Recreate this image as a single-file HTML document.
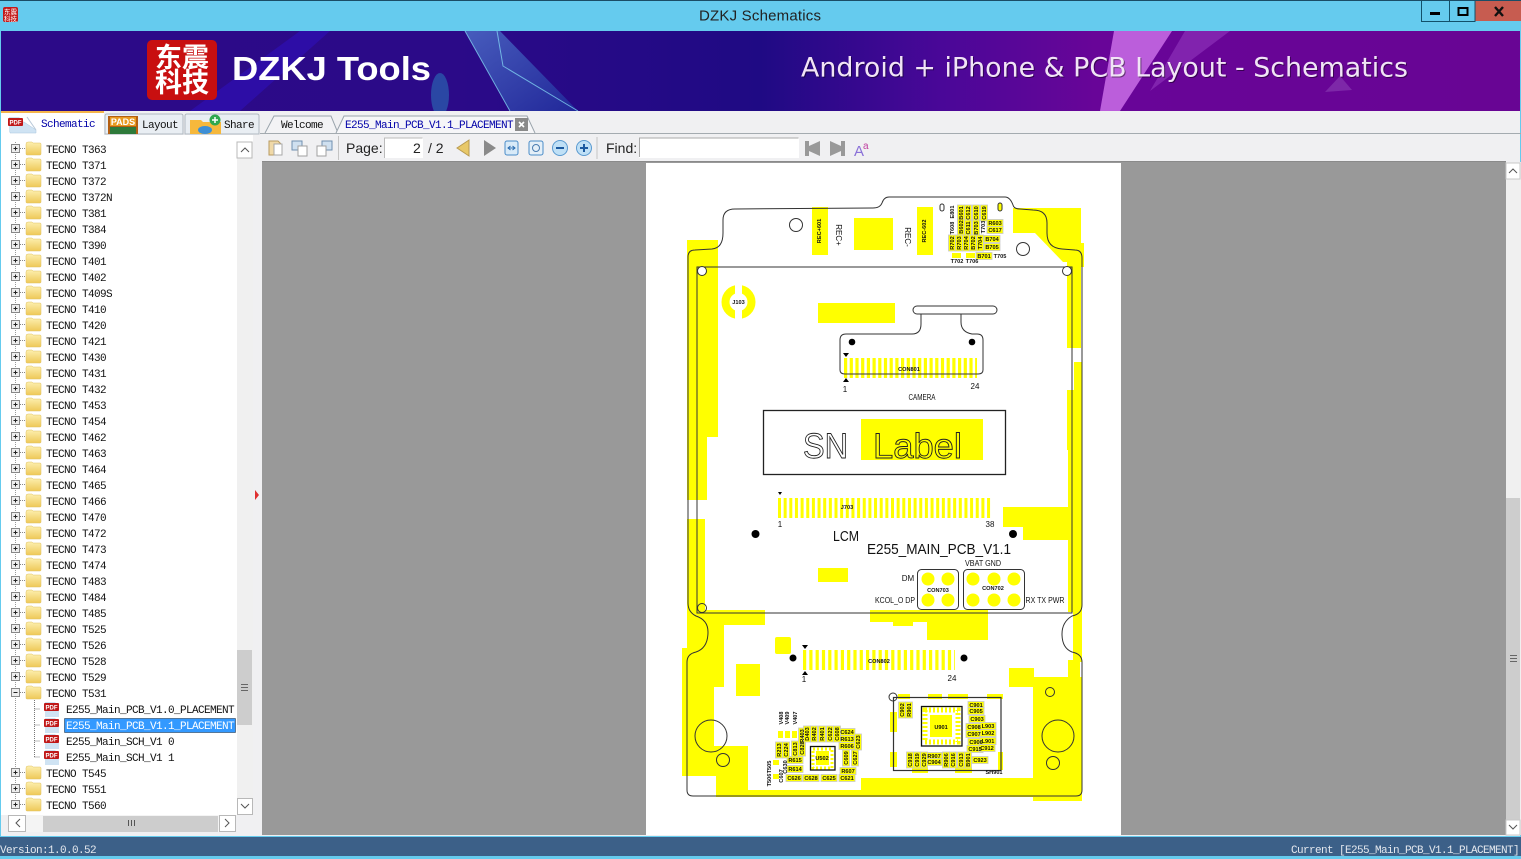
<!DOCTYPE html>
<html><head><meta charset="utf-8"><title>DZKJ Schematics</title>
<style>
html,body{margin:0;padding:0;background:#fff;overflow:hidden}
svg{display:block}
.t{font:11px "Liberation Mono",monospace;letter-spacing:-.6px;fill:#111}
.u{font:14px "Liberation Sans",sans-serif;fill:#222}
.l{font:bold 5.6px "Liberation Sans",sans-serif;fill:#111;text-anchor:middle}
.m{font:8px "Liberation Sans",sans-serif;fill:#111;text-anchor:middle}
</style></head><body>
<svg xmlns="http://www.w3.org/2000/svg" width="1521" height="859" viewBox="0 0 1521 859">
<defs>
<linearGradient id="ban" x1="0" x2="1" y1="0" y2="0"><stop offset="0" stop-color="#2c0a88"/><stop offset=".3" stop-color="#2b0a88"/><stop offset=".5" stop-color="#1f0a84"/><stop offset=".62" stop-color="#4a0798"/><stop offset=".72" stop-color="#680598"/><stop offset="1" stop-color="#680594"/></linearGradient>
<linearGradient id="bl" x1="0" x2="1" y1="0" y2="1"><stop offset="0" stop-color="#5fa0e8"/><stop offset="1" stop-color="#1d3fa8"/></linearGradient>
<linearGradient id="fo" x1="0" x2="0" y1="0" y2="1"><stop offset="0" stop-color="#fdf0b0"/><stop offset="1" stop-color="#eec858"/></linearGradient>
<g id="r"><rect x="11.5" y="-4.5" width="8" height="8" fill="#eee" stroke="#888"/><path d="M13.5-.5h4M15.5-2.500v4" stroke="#222"/><path d="M20-.5h6" stroke="#888" stroke-dasharray="1 1"/><use href="#f"/></g>
<g id="f"><path d="M26-5q0-2 2-2h4l1 1h7q1 0 1 1v10q0 1-1 1H27q-1 0-1-1z" fill="url(#fo)" stroke="#e0c060" stroke-width=".5"/></g>
<g id="p"><path d="M-7 -7h10l4 4v11h-14z" fill="#cfe3f3"/><rect x="-8" y="-6" width="15" height="8" fill="#c01818" rx="1"/><text x="-.5" y="0.500" font-family="Liberation Sans" font-size="6" font-weight="bold" fill="#fff" text-anchor="middle">PDF</text></g>
<rect id="h" x="-8" y="-3.500" width="16" height="7" fill="#ff0" stroke="#c8c8c8" stroke-width=".8"/>
<rect id="v" x="-3.500" y="-8" width="7" height="16" fill="#ff0" stroke="#c8c8c8" stroke-width=".8"/>
<clipPath id="pc"><rect x="646" y="163" width="475" height="672"/></clipPath>
</defs>

<!-- window frame -->
<rect width="1521" height="859" fill="#65cbee"/>
<rect width="1521" height="1" fill="#1a4d66"/>
<rect x="3" y="7" width="15" height="15" rx="2" fill="#c31a1a"/>
<text x="4" y="14" font-family="Noto Sans CJK SC" font-size="6.500" fill="#fff">东震</text>
<text x="4" y="21" font-family="Noto Sans CJK SC" font-size="6.500" fill="#fff">科技</text>
<text x="760" y="20.500" font-family="Liberation Sans,sans-serif" font-size="15" fill="#222" text-anchor="middle" textLength="122">DZKJ Schematics</text>
<rect x="1475" y="1" width="46" height="20" fill="#c75c50"/>
<path d="M1421.500 1v20.500h53.500V1M1449.500 1v20" fill="none" stroke="#12506a"/>
<rect x="1430" y="12" width="10" height="3" fill="#000"/>
<rect x="1458.500" y="8" width="9" height="7" fill="none" stroke="#000" stroke-width="2"/>
<path d="M1495 7l8 9M1503 7l-8 9" stroke="#111" stroke-width="2.400"/>

<!-- banner -->
<rect x="1" y="31" width="1519" height="80" fill="url(#ban)"/>
<path d="M190 111L300 31h30L240 111z" fill="#2f10c0" opacity=".55"/>
<path d="M465 31h35l78 80h-68z" fill="url(#bl)" opacity=".55"/>
<path d="M465 31l45 80M497 31l6 35 75 45" stroke="#7fd0f0" fill="none" opacity=".8"/>
<ellipse cx="440" cy="95" rx="9" ry="22" fill="#2a70b8" opacity=".6"/>
<path d="M1114 31h58l-52 80h-20z" fill="#c468e2" opacity=".9"/>
<path d="M1185 31h45l-80 60z" fill="#8c30b8" opacity=".7"/>
<path d="M1325 92l27-2-12-14z" fill="#7d28a8"/>
<rect x="147" y="40" width="70" height="60" rx="5" fill="#c80f10"/>
<text x="182" y="67" font-family="Noto Sans CJK SC,sans-serif" font-size="27" font-weight="bold" fill="#fff" text-anchor="middle">东震</text>
<text x="182" y="92" font-family="Noto Sans CJK SC,sans-serif" font-size="27" font-weight="bold" fill="#fff" text-anchor="middle">科技</text>
<text x="232" y="80" font-family="Liberation Sans,sans-serif" font-size="33" font-weight="bold" fill="#fff" textLength="199" lengthAdjust="spacingAndGlyphs">DZKJ Tools</text>
<text x="802" y="77.500" font-family="DejaVu Sans,sans-serif" font-size="27" fill="#000" opacity=".45" textLength="607" lengthAdjust="spacingAndGlyphs">Android + iPhone &amp; PCB Layout - Schematics</text>
<text x="801" y="76.500" font-family="DejaVu Sans,sans-serif" font-size="27" fill="#f1e4f6" textLength="607" lengthAdjust="spacingAndGlyphs">Android + iPhone &amp; PCB Layout - Schematics</text>

<!-- panels bg -->
<rect x="1" y="111" width="1519" height="725" fill="#f0f0f2"/>
<rect x="262" y="162" width="1244" height="673" fill="#999"/>
<rect x="262" y="161" width="1244" height="1" fill="#8a8a8a"/>
<path d="M260 133.500H1521" stroke="#a4abb0"/>

<!-- left tabs -->
<rect x="1" y="111" width="103" height="24" fill="#fff"/>
<rect x="1" y="111" width="103" height="2" fill="#f4b44a"/>
<path d="M10 122h14l12 8v3H10z" fill="#cfe3f3" stroke="#a8c4dc" stroke-width=".5"/>
<path d="M27 117l9 13" stroke="#b8c8d8"/>
<use href="#p" x="16" y="124"/>
<text class="t" x="41" y="127" style="fill:#0000a8">Schematic</text>
<path d="M105 134v-18q0-2 2-2h74q2 0 2 2v18z" fill="#e9eef3" stroke="#b0b8c0"/>
<rect x="108" y="116" width="30" height="18" fill="#b45f12"/><rect x="110" y="117" width="26" height="9" fill="#e89a20"/><rect x="110" y="127" width="26" height="7" fill="#2e7a3a"/>
<text x="123" y="125" font-family="Liberation Sans" font-size="9" font-weight="bold" fill="#fff" text-anchor="middle">PADS</text>
<text class="t" x="142" y="128">Layout</text>
<path d="M185 134v-18q0-2 2-2h70q2 0 2 2v18z" fill="#e9eef3" stroke="#b0b8c0"/>
<path d="M190 120h11l2 2h18v12h-31z" fill="#f6b83c"/><ellipse cx="205" cy="130" rx="7" ry="4" fill="#3d8fd6"/><circle cx="215" cy="120" r="5.500" fill="#2fa84f"/><path d="M212 120h6M215 117v6" stroke="#fff" stroke-width="1.500"/>
<text class="t" x="224" y="128">Share</text>

<!-- doc tabs -->
<path d="M265 133l9-17h57l7 17" fill="#f3f3f5" stroke="#9aa4ac"/>
<text class="t" x="281" y="128">Welcome</text>
<path d="M336 133l8-17h183l8 17" fill="#f6f6f8" stroke="#9aa4ac"/>
<text class="t" x="345" y="128" style="fill:#0000a8">E255_Main_PCB_V1.1_PLACEMENT</text>
<rect x="515" y="118" width="13" height="13" fill="#8a8a8a"/><path d="M519 122l5 5M524 122l-5 5" stroke="#fff" stroke-width="1.600"/>

<!-- toolbar -->
<path d="M269 141h9l4 4v10h-13z" fill="#f0d9a8" stroke="#b89a60"/><rect x="274" y="144" width="8" height="11" fill="#fff" stroke="#a8a8a8"/>
<rect x="292" y="141" width="10" height="9" fill="#cfe0f0" stroke="#7090b0"/><rect x="298" y="146" width="9" height="10" fill="#fff" stroke="#a0a0a0"/>
<rect x="322" y="141" width="10" height="9" fill="#cfe0f0" stroke="#7090b0"/><rect x="317" y="146" width="9" height="10" fill="#fff" stroke="#a0a0a0"/>
<path d="M338.500 136v24" stroke="#c4c4c4"/>
<text class="u" x="346" y="153">Page:</text>
<rect x="384" y="138" width="39" height="20" fill="#fff"/><path d="M384.500 158v-20h38" fill="none" stroke="#bbb"/>
<text class="u" x="413" y="153">2</text><text class="u" x="428" y="153">/ 2</text>
<path d="M469 140v16l-12-8z" fill="#e8c868" stroke="#b89a50"/>
<path d="M484 140v16l12-8z" fill="#8a8a8a"/>
<rect x="505" y="141" width="13" height="14" rx="2" fill="#d8eaf8" stroke="#4a8cc8"/><path d="M508 148h7M510.500 146l-2.500 2 2.500 2M512.500 146l2.500 2-2.500 2" stroke="#2a6cb0" fill="none"/>
<rect x="529" y="141" width="14" height="14" rx="2" fill="#e4eff8" stroke="#4a8cc8"/><circle cx="536" cy="148" r="3.500" fill="none" stroke="#4a7cb0"/>
<circle cx="560" cy="148" r="7.500" fill="#bfe0f6" stroke="#5a9ad0"/><rect x="556" y="147" width="8" height="2" fill="#1c5aa0"/>
<circle cx="584" cy="148" r="7.500" fill="#bfe0f6" stroke="#5a9ad0"/><path d="M580 148h8M584 144v8" stroke="#1c5aa0" stroke-width="2"/>
<path d="M597 137v22" stroke="#c4c4c4"/>
<text class="u" x="606" y="153">Find:</text>
<rect x="639" y="138" width="160" height="20" fill="#fff"/><path d="M639.500 157v-19h159" fill="none" stroke="#aaa"/>
<path d="M805 141h4v5l11-5v15l-11-5v5h-4z" fill="#999"/>
<path d="M845 141h-4v5l-11-5v15l11-5v5h4z" fill="#999"/>
<text x="854" y="156" font-family="Liberation Sans" font-size="15" fill="#8a70d8">A</text><text x="863" y="149" font-family="Liberation Sans" font-size="10" fill="#c040a0">a</text>

<!-- tree -->
<rect x="1" y="135" width="252" height="680" fill="#fff"/>
<rect x="253" y="135" width="9" height="700" fill="#f0f0f2"/>
<path d="M255 490l4 5-4 5z" fill="#e03030"/>
<path d="M15.500 142V805" stroke="#999" stroke-dasharray="1 1"/>
<path d="M34.500 700v57M34.500 709h6M34.500 725h6M34.500 741h6M34.500 757h6" stroke="#777" stroke-dasharray="1 1" fill="none"/>
<use href="#r" y="149"/><text class="t" x="46" y="153">TECNO T363</text>
<use href="#r" y="165"/><text class="t" x="46" y="169">TECNO T371</text>
<use href="#r" y="181"/><text class="t" x="46" y="185">TECNO T372</text>
<use href="#r" y="197"/><text class="t" x="46" y="201">TECNO T372N</text>
<use href="#r" y="213"/><text class="t" x="46" y="217">TECNO T381</text>
<use href="#r" y="229"/><text class="t" x="46" y="233">TECNO T384</text>
<use href="#r" y="245"/><text class="t" x="46" y="249">TECNO T390</text>
<use href="#r" y="261"/><text class="t" x="46" y="265">TECNO T401</text>
<use href="#r" y="277"/><text class="t" x="46" y="281">TECNO T402</text>
<use href="#r" y="293"/><text class="t" x="46" y="297">TECNO T409S</text>
<use href="#r" y="309"/><text class="t" x="46" y="313">TECNO T410</text>
<use href="#r" y="325"/><text class="t" x="46" y="329">TECNO T420</text>
<use href="#r" y="341"/><text class="t" x="46" y="345">TECNO T421</text>
<use href="#r" y="357"/><text class="t" x="46" y="361">TECNO T430</text>
<use href="#r" y="373"/><text class="t" x="46" y="377">TECNO T431</text>
<use href="#r" y="389"/><text class="t" x="46" y="393">TECNO T432</text>
<use href="#r" y="405"/><text class="t" x="46" y="409">TECNO T453</text>
<use href="#r" y="421"/><text class="t" x="46" y="425">TECNO T454</text>
<use href="#r" y="437"/><text class="t" x="46" y="441">TECNO T462</text>
<use href="#r" y="453"/><text class="t" x="46" y="457">TECNO T463</text>
<use href="#r" y="469"/><text class="t" x="46" y="473">TECNO T464</text>
<use href="#r" y="485"/><text class="t" x="46" y="489">TECNO T465</text>
<use href="#r" y="501"/><text class="t" x="46" y="505">TECNO T466</text>
<use href="#r" y="517"/><text class="t" x="46" y="521">TECNO T470</text>
<use href="#r" y="533"/><text class="t" x="46" y="537">TECNO T472</text>
<use href="#r" y="549"/><text class="t" x="46" y="553">TECNO T473</text>
<use href="#r" y="565"/><text class="t" x="46" y="569">TECNO T474</text>
<use href="#r" y="581"/><text class="t" x="46" y="585">TECNO T483</text>
<use href="#r" y="597"/><text class="t" x="46" y="601">TECNO T484</text>
<use href="#r" y="613"/><text class="t" x="46" y="617">TECNO T485</text>
<use href="#r" y="629"/><text class="t" x="46" y="633">TECNO T525</text>
<use href="#r" y="645"/><text class="t" x="46" y="649">TECNO T526</text>
<use href="#r" y="661"/><text class="t" x="46" y="665">TECNO T528</text>
<use href="#r" y="677"/><text class="t" x="46" y="681">TECNO T529</text>
<use href="#f" y="693"/><rect x="11.500" y="688.500" width="8" height="8" fill="#eee" stroke="#888"/><path d="M13.500 692.500h4" stroke="#222"/><path d="M20 692.500h6" stroke="#888" stroke-dasharray="1 1"/><text class="t" x="46" y="697">TECNO T531</text>
<use href="#p" x="52" y="709"/><text class="t" x="66" y="713">E255_Main_PCB_V1.0_PLACEMENT</text>
<use href="#p" x="52" y="725"/>
<rect x="64.500" y="718.500" width="171" height="14" fill="#3399ff" stroke="#123" stroke-dasharray="1 1"/>
<text class="t" x="66" y="729" style="fill:#fff">E255_Main_PCB_V1.1_PLACEMENT</text>
<use href="#p" x="52" y="741"/><text class="t" x="66" y="745">E255_Main_SCH_V1 0</text>
<use href="#p" x="52" y="757"/><text class="t" x="66" y="761">E255_Main_SCH_V1 1</text>
<use href="#r" y="773"/><text class="t" x="46" y="777">TECNO T545</text>
<use href="#r" y="789"/><text class="t" x="46" y="793">TECNO T551</text>
<use href="#r" y="805"/><text class="t" x="46" y="809">TECNO T560</text>

<!-- tree scrollbars -->
<rect x="237" y="142" width="16" height="672" fill="#f0f0f0"/>
<rect x="237" y="142" width="15" height="16" fill="#fff" stroke="#b8b8b8"/>
<path d="M241 152l4-4 4 4" fill="none" stroke="#555"/>
<rect x="237" y="650" width="15" height="75" fill="#cdcdcd"/>
<path d="M241 684.500h7M241 687.500h7M241 690.500h7" stroke="#666"/>
<rect x="237.500" y="798.500" width="15" height="16" fill="#fff" stroke="#b8b8b8"/>
<path d="M241 804l4 4 4-4" fill="none" stroke="#555"/>
<rect x="8" y="815" width="228" height="17" fill="#f4f4f4"/>
<rect x="8.500" y="815.500" width="17" height="16" fill="#fff" stroke="#b8b8b8"/><path d="M20 819l-4 4 4 4" fill="none" stroke="#555"/>
<rect x="43" y="816" width="175" height="16" fill="#cdcdcd"/><path d="M128.500 820v6M131.500 820v6M134.500 820v6" stroke="#555"/>
<rect x="219.500" y="815.500" width="16" height="16" fill="#fff" stroke="#b8b8b8"/><path d="M225 819l4 4-4 4" fill="none" stroke="#555"/>

<!-- main right scrollbar -->
<rect x="1506" y="162" width="15" height="673" fill="#f0f0f0"/>
<rect x="1506" y="163" width="14" height="16" fill="#fff" stroke="#c8c8c8"/><path d="M1509 173l4-4 4 4" fill="none" stroke="#555"/>
<rect x="1506" y="498" width="14" height="322" fill="#cdcdcd"/>
<path d="M1510 655.500h7M1510 658.500h7M1510 661.500h7" stroke="#666"/>
<rect x="1506" y="820" width="14" height="15" fill="#fff" stroke="#c8c8c8"/><path d="M1509 825l4 4 4-4" fill="none" stroke="#555"/>

<!-- status -->
<rect y="837" width="1521" height="19" fill="#3c6088"/>
<text class="t" x="0" y="853" style="fill:#e4e8ee">Version:1.0.0.52</text>
<text class="t" x="1291" y="853" style="fill:#e4e8ee">Current [E255_Main_PCB_V1.1_PLACEMENT]</text>

<!-- PCB page -->
<rect x="646" y="163" width="475" height="672" fill="#fff"/>
<g clip-path="url(#pc)">
<g fill="#ff0">
<path d="M687 240h31v197h-11v63h-20z"/>
<path d="M687 519h18v91h60v15h-41v62h-10v59h34v44h113v-12h172v19H716v-21h-34V648h5z"/>
<path d="M1013 208h68v35h3v24h-3v81h-14v-86l-4 0-28-29h-22z"/>
<path d="M1074 362h8v30h-8zM1067 390h15v60h-15z"/>
<path d="M1068 450h14v162h-14v-72h-45v-13h-20v-20h65z"/>
<path d="M1073 612h9v50h-2l0 15h-12v-17h5z"/>
<path d="M1033 677h49v124h-49z"/>
<rect x="1009" y="668" width="25" height="19"/>
<rect x="812" y="207" width="16" height="48"/>
<rect x="854" y="218" width="39" height="32"/>
<rect x="917" y="207" width="16" height="48"/>
<rect x="818" y="303" width="77" height="20"/>
<rect x="861" y="419" width="122" height="41"/>
<rect x="818" y="568" width="30" height="14"/>
<path d="M870 610h118v30h-61v-18h-14v4h-20v-4h-23z"/>
<rect x="775" y="637" width="16" height="17" rx="2"/>
<rect x="736" y="664" width="24" height="32"/>
<circle cx="928" cy="579" r="6.500"/><circle cx="948" cy="579" r="6.500"/><circle cx="928" cy="600" r="6.500"/><circle cx="948" cy="600" r="6.500"/>
<circle cx="973" cy="579" r="6.500"/><circle cx="994" cy="579" r="6.500"/><circle cx="1014" cy="579" r="6.500"/><circle cx="973" cy="600" r="6.500"/><circle cx="994" cy="600" r="6.500"/><circle cx="1014" cy="600" r="6.500"/>
<!-- SH901 dashes -->
<path d="M898 694h12v5h-12zM928 694h14v5h-14zM948 694h20v5h-20zM987 694h16v5h-16zM890 712h7v20h-7zM890 752h7v15h-7zM998 752h5v18h-5zM912 767h16v6h-16zM955 767h17v6h-17z"/>
<rect x="930" y="715" width="22" height="22"/>
<rect x="816" y="751" width="13" height="14"/>
</g>
<circle cx="738.500" cy="302" r="13" fill="none" stroke="#ff0" stroke-width="8"/>
<rect x="735" y="284" width="7" height="12" fill="#fff"/><rect x="735" y="308" width="7" height="12" fill="#fff"/>
<path d="M844 368h133" stroke="#ff0" stroke-width="20" stroke-dasharray="3.200 2.500"/>
<path d="M778 508h214" stroke="#ff0" stroke-width="20" stroke-dasharray="3 2.650"/>
<path d="M803 660h152" stroke="#ff0" stroke-width="20" stroke-dasharray="3.200 3.100"/>
<rect x="925" y="710" width="33" height="32" fill="none" stroke="#ff0" stroke-width="5" stroke-dasharray="2 2"/>
<rect x="813" y="749" width="19" height="19" fill="none" stroke="#ff0" stroke-width="3" stroke-dasharray="2 2"/>

<!-- outlines -->
<g fill="none" stroke="#333" stroke-width="1">
<path d="M688 603V257Q688 250 695 250L712 249Q723 248 723 233V220Q723 209 735 209L873 208Q880 208 882 203Q884 197 889 197H1005Q1010 197 1013 205Q1014 209 1020 209L1033 210Q1047 210 1047 223V233Q1047 248 1062 249L1075 250Q1082 250 1082 258V605Q1082 614 1072 616Q1062 622 1062 634Q1062 648 1072 652Q1082 654 1082 662V790Q1082 796 1076 796H693Q687 796 687 790V662Q687 654 696 652Q708 648 708 632Q708 620 696 616Q688 612 688 603Z"/>
<rect x="697" y="267" width="375" height="346"/>
<circle cx="702" cy="271" r="4.500" fill="#fff"/><circle cx="1067" cy="271" r="4.500" fill="#fff"/><circle cx="702" cy="608" r="4.500"/>
<circle cx="796" cy="225" r="6.500"/><circle cx="1023" cy="249" r="6.500"/>
<circle cx="711" cy="736" r="16"/><circle cx="1058" cy="736" r="16"/>
<circle cx="723" cy="760" r="6.500"/><circle cx="1053" cy="763" r="6.500"/><circle cx="1050" cy="692" r="4.500"/><circle cx="893" cy="697" r="4"/>
<rect x="913" y="306" width="84" height="8" rx="4"/>
<path d="M921 314V324Q921 334 912 334H846Q840 334 840 340V370Q840 374 845 374H978Q983 374 983 370V340Q983 334 977 334H972Q961 332 961 322V314"/>
<rect x="763.500" y="410.500" width="242" height="64" stroke="#222" stroke-width="1.300"/>
<rect x="917.500" y="569.500" width="41" height="40" rx="4"/>
<rect x="963.500" y="569.500" width="61" height="40" rx="4"/>
<rect x="893.500" y="697.500" width="107.500" height="73" stroke-width="1.200"/>
<rect x="921.500" y="706.500" width="40.500" height="39.500" stroke="#111" stroke-width="1.300"/>
<rect x="810.500" y="746.500" width="24.500" height="23.500" stroke="#111" stroke-width="1.300"/>
<rect x="940" y="204" width="4" height="7" rx="2"/><rect x="998" y="203" width="4" height="8" rx="2" fill="#ff0"/>
</g>
<g fill="#000">
<circle cx="852" cy="342" r="3.300"/><circle cx="972" cy="342" r="3.300"/>
<circle cx="755.500" cy="534" r="4"/><circle cx="1013" cy="534" r="4"/>
<circle cx="793" cy="658" r="3.500"/><circle cx="964" cy="658" r="3.500"/>
<path d="M843 353h6l-3 4zM843 382h6l-3-4zM778 492h4l-2 3zM802 645h6l-3 4zM802 675h6l-3-4z"/>
</g>
<text x="803" y="458" font-family="Liberation Sans,sans-serif" font-size="35" fill="#fff" stroke="#222" stroke-width=".9" textLength="45" lengthAdjust="spacingAndGlyphs">SN</text>
<text x="873" y="458" font-family="Liberation Sans,sans-serif" font-size="35" fill="#ff0" stroke="#222" stroke-width=".9" textLength="89" lengthAdjust="spacingAndGlyphs">Label</text>
<text x="833" y="541" font-family="Liberation Sans,sans-serif" font-size="15" fill="#111" textLength="26" lengthAdjust="spacingAndGlyphs">LCM</text>
<text x="867" y="554" font-family="Liberation Sans,sans-serif" font-size="15" fill="#111" textLength="144" lengthAdjust="spacingAndGlyphs">E255_MAIN_PCB_V1.1</text>
<g>
<text class="m" x="922" y="400" textLength="27" lengthAdjust="spacingAndGlyphs">CAMERA</text>
<text class="m" x="845" y="392">1</text><text class="m" x="975" y="389">24</text>
<text class="m" x="780" y="527">1</text><text class="m" x="990" y="527">38</text>
<text class="m" x="804" y="682">1</text><text class="m" x="952" y="681">24</text>
<text class="m" x="908" y="581">DM</text>
<text class="m" x="895" y="603" textLength="40" lengthAdjust="spacingAndGlyphs">KCOL_O DP</text>
<text class="m" x="983" y="566" textLength="36" lengthAdjust="spacingAndGlyphs">VBAT GND</text>
<text class="m" x="1045" y="603" textLength="39" lengthAdjust="spacingAndGlyphs">RX TX PWR</text>
<text class="m" transform="translate(836,235) rotate(90)">REC+</text>
<text class="m" transform="translate(905,237) rotate(90)">REC-</text>
</g>
<g>
<text class="l" x="738.500" y="304">J103</text><text class="l" x="909" y="371">CON801</text><text class="l" x="847" y="509">J703</text>
<text class="l" x="938" y="592">CON703</text><text class="l" x="993" y="590">CON702</text><text class="l" x="879" y="663">CON802</text>
<text class="l" transform="translate(821,231) rotate(-90)">REC+601</text>
<text class="l" transform="translate(926,231) rotate(-90)">REC-602</text>
<text class="l" x="941" y="729">U901</text><text class="l" x="822" y="760">U502</text>
<text class="l" x="994" y="774">SH901</text>
</g>
<!-- top right cluster -->
<g>
<use href="#v" x="961" y="213"/><use href="#v" x="961" y="227"/><use href="#v" x="968" y="213"/><use href="#v" x="968" y="228"/><use href="#v" x="976" y="213"/><use href="#v" x="976" y="228"/><use href="#v" x="984" y="213"/>
<use href="#v" x="952" y="243"/><use href="#v" x="959" y="243"/><use href="#v" x="966" y="243"/><use href="#v" x="973" y="243"/><use href="#v" x="980" y="243"/>
<use href="#h" x="995" y="223"/><use href="#h" x="995" y="230"/><use href="#h" x="992" y="239"/><use href="#h" x="992" y="247"/><use href="#h" x="984" y="256"/>
<rect x="952" y="253" width="9" height="5" fill="#ff0"/><rect x="966" y="253" width="9" height="5" fill="#ff0"/>
<text class="l" transform="translate(954,212) rotate(-90)">E801</text><text class="l" transform="translate(954,228) rotate(-90)">T608</text>
<text class="l" transform="translate(963,213) rotate(-90)">B601</text><text class="l" transform="translate(963,227) rotate(-90)">B602</text>
<text class="l" transform="translate(970,213) rotate(-90)">C612</text><text class="l" transform="translate(970,228) rotate(-90)">C611</text>
<text class="l" transform="translate(978,213) rotate(-90)">C610</text><text class="l" transform="translate(978,228) rotate(-90)">B703</text>
<text class="l" transform="translate(986,213) rotate(-90)">C619</text><text class="l" transform="translate(985,227) rotate(-90)">T703</text>
<text class="l" transform="translate(954,243) rotate(-90)">R702</text><text class="l" transform="translate(961,243) rotate(-90)">R703</text>
<text class="l" transform="translate(968,243) rotate(-90)">R704</text><text class="l" transform="translate(975,243) rotate(-90)">B702</text><text class="l" transform="translate(982,243) rotate(-90)">T704</text>
<text class="l" x="995" y="225">R603</text><text class="l" x="995" y="232">C617</text><text class="l" x="992" y="241">B704</text><text class="l" x="992" y="249">B705</text><text class="l" x="984" y="258">B701</text><text class="l" x="1000" y="258">T705</text><text class="l" x="957" y="263">T702</text><text class="l" x="972" y="263">T706</text>
</g>
<!-- lower-left cluster -->
<g>
<use href="#h" x="795" y="760"/><use href="#h" x="795" y="769"/><use href="#h" x="794" y="778"/><use href="#h" x="811" y="778"/><use href="#h" x="829" y="778"/><use href="#h" x="847" y="778"/><use href="#h" x="848" y="771"/><use href="#h" x="847" y="746"/><use href="#h" x="847" y="739"/><use href="#h" x="847" y="732"/>
<use href="#v" x="779" y="750"/><use href="#v" x="786" y="750"/><use href="#v" x="795" y="749"/><use href="#v" x="802" y="748"/><use href="#v" x="802" y="736"/><use href="#v" x="807" y="734"/><use href="#v" x="814" y="734"/><use href="#v" x="822" y="734"/><use href="#v" x="830" y="734"/><use href="#v" x="837" y="734"/><use href="#v" x="858" y="742"/><use href="#v" x="846" y="758"/><use href="#v" x="855" y="758"/>
<rect x="778" y="731" width="5" height="7" fill="#ff0"/><rect x="785" y="731" width="5" height="7" fill="#ff0"/><rect x="792" y="731" width="5" height="7" fill="#ff0"/><rect x="773" y="760" width="6" height="5" fill="#ff0"/><rect x="773" y="774" width="6" height="5" fill="#ff0"/>
<text class="l" x="795" y="762">R615</text><text class="l" x="795" y="771">R614</text><text class="l" x="794" y="780">C626</text><text class="l" x="811" y="780">C628</text><text class="l" x="829" y="780">C625</text><text class="l" x="847" y="780">C621</text><text class="l" x="848" y="773">R607</text><text class="l" x="847" y="748">R606</text><text class="l" x="847" y="741">R613</text><text class="l" x="847" y="734">C624</text>
<text class="l" transform="translate(783,718) rotate(-90)">V408</text><text class="l" transform="translate(789,718) rotate(-90)">V409</text><text class="l" transform="translate(797,718) rotate(-90)">V407</text>
<text class="l" transform="translate(781,750) rotate(-90)">R213</text><text class="l" transform="translate(788,750) rotate(-90)">C224</text><text class="l" transform="translate(797,749) rotate(-90)">C813</text><text class="l" transform="translate(804,748) rotate(-90)">C828</text><text class="l" transform="translate(804,736) rotate(-90)">R403</text><text class="l" transform="translate(809,734) rotate(-90)">D403</text><text class="l" transform="translate(816,734) rotate(-90)">R402</text><text class="l" transform="translate(824,734) rotate(-90)">R401</text><text class="l" transform="translate(832,734) rotate(-90)">C622</text><text class="l" transform="translate(839,734) rotate(-90)">C608</text><text class="l" transform="translate(860,742) rotate(-90)">C623</text><text class="l" transform="translate(848,758) rotate(-90)">C609</text><text class="l" transform="translate(857,758) rotate(-90)">C627</text>
<text class="l" transform="translate(771,767) rotate(-90)">T505</text><text class="l" transform="translate(771,780) rotate(-90)">T506</text><text class="l" transform="translate(787,767) rotate(-90)">C630</text><text class="l" transform="translate(783,776) rotate(-90)">C607</text>
</g>
<!-- SH901 cluster -->
<g>
<use href="#h" x="976" y="705"/><use href="#h" x="976" y="711"/><use href="#h" x="977" y="719"/><use href="#h" x="974" y="727"/><use href="#h" x="974" y="734"/><use href="#h" x="976" y="742"/><use href="#h" x="975" y="749"/><use href="#h" x="980" y="760"/><use href="#h" x="988" y="726"/><use href="#h" x="988" y="733"/><use href="#h" x="988" y="741"/><use href="#h" x="987" y="748"/><use href="#h" x="934" y="756"/><use href="#h" x="934" y="762"/>
<use href="#v" x="902" y="710"/><use href="#v" x="909" y="710"/><use href="#v" x="910" y="760"/><use href="#v" x="917" y="760"/><use href="#v" x="924" y="760"/><use href="#v" x="946" y="760"/><use href="#v" x="953" y="760"/><use href="#v" x="961" y="760"/><use href="#v" x="968" y="760"/>
<text class="l" x="976" y="707">C901</text><text class="l" x="976" y="713">C905</text><text class="l" x="977" y="721">C903</text><text class="l" x="974" y="729">C908</text><text class="l" x="974" y="736">C907</text><text class="l" x="976" y="744">C906</text><text class="l" x="975" y="751">C915</text><text class="l" x="980" y="762">C923</text><text class="l" x="988" y="728">L903</text><text class="l" x="988" y="735">L902</text><text class="l" x="988" y="743">L901</text><text class="l" x="987" y="750">C912</text><text class="l" x="934" y="758">R907</text><text class="l" x="934" y="764">C904</text>
<text class="l" transform="translate(904,710) rotate(-90)">C902</text><text class="l" transform="translate(911,710) rotate(-90)">R901</text><text class="l" transform="translate(912,760) rotate(-90)">C918</text><text class="l" transform="translate(919,760) rotate(-90)">C919</text><text class="l" transform="translate(926,760) rotate(-90)">C929</text><text class="l" transform="translate(948,760) rotate(-90)">R906</text><text class="l" transform="translate(955,760) rotate(-90)">C916</text><text class="l" transform="translate(963,760) rotate(-90)">C913</text><text class="l" transform="translate(970,760) rotate(-90)">B901</text>
</g>
</g>
</svg>
</body></html>
